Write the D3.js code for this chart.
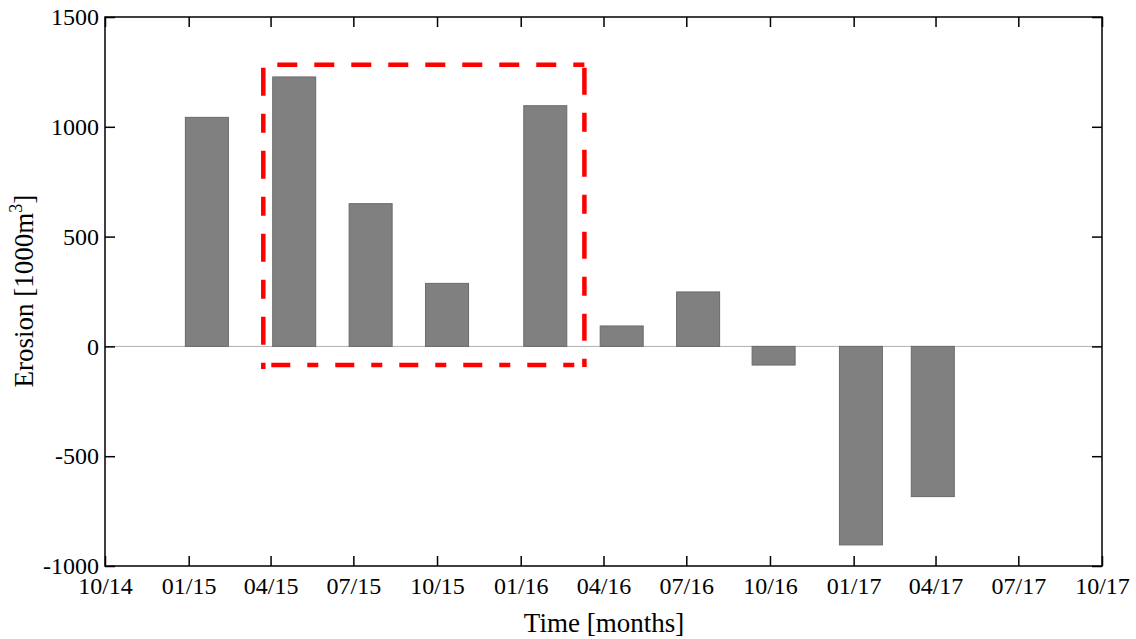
<!DOCTYPE html>
<html>
<head>
	<meta charset="UTF-8">
	<title>Erosion</title>
	<script type="text/javascript" src="https://cdn.jsdelivr.net/npm/d3@7"></script>
	<style>
		body { margin: 0; background: #fff; }
		text { font-family: "Liberation Serif", "Times New Roman", serif; fill: #000; }
	</style>
</head>
<body>

<script type="text/javascript">
	// survey dates and erosion volume (1000 m3)
	var dates = ["2015-01-21", "2015-04-27", "2015-07-20", "2015-10-12", "2016-01-28",
	             "2016-04-21", "2016-07-14", "2016-10-05", "2017-01-09", "2017-03-29"];
	var erosion = [1043, 1227, 650, 287, 1096, 93, 248, -85, -904, -684];

	var timeRange = ["2014-10-01", "2017-10-01"];
	var yTicks = [-1000, -500, 0, 500, 1000, 1500];

	// highlighted period (red dashed box)
	var boxDates = ["2015-03-24", "2016-03-11"];
	var boxValues = [-85, 1283];

	var w = 1136;
	var h = 639;

	var margin = {
		top: 17,
		bottom: 73,
		left: 105,
		right: 34
	};

	var height = h - margin.top - margin.bottom;
	var width = w - margin.left - margin.right;

	var parse = d3.timeParse("%Y-%m-%d");

	var x = d3.scaleTime()
		.domain(timeRange.map(parse))
		.range([0, width]);

	var y = d3.scaleLinear()
		.domain([-1000, 1500])
		.range([height, 0]);

	var svg = d3.select("body")
		.append("svg")
		.attr("width", w)
		.attr("height", h);

	var chart = svg.append("g")
		.attr("transform", "translate(" + margin.left + "," + margin.top + ")");

	var data = dates.map(function(d, i){ return {date: parse(d), value: erosion[i]}; });
	var barW = 43;

	// zero line
	chart.append("line")
		.attr("x1", 0)
		.attr("x2", width)
		.attr("y1", y(0))
		.attr("y2", y(0))
		.attr("stroke", "#b0b0b0")
		.attr("stroke-width", 1);

	chart.selectAll(".bar")
		.data(data)
		.enter()
		.append("rect")
		.classed("bar", true)
		.attr("x", function(d){ return x(d.date) - barW / 2; })
		.attr("y", function(d){ return y(Math.max(0, d.value)); })
		.attr("width", barW)
		.attr("height", function(d){ return Math.abs(y(d.value) - y(0)); })
		.attr("fill", "#808080")
		.attr("stroke", "#6a6a6a")
		.attr("stroke-width", 1);

	// red dashed box
	var bx0 = x(parse(boxDates[0])), bx1 = x(parse(boxDates[1]));
	var by0 = y(boxValues[1]), by1 = y(boxValues[0]);
	var redStyle = function(sel, dash){
		sel.attr("fill", "none")
			.attr("stroke", "#ff0000")
			.attr("stroke-width", 4.5)
			.attr("stroke-dasharray", dash);
	};
	chart.append("path")
		.attr("d", "M" + (bx0 + 14) + "," + by0 + "H" + bx1)
		.call(redStyle, "20,17");
	chart.append("path")
		.attr("d", "M" + (bx0 + 8) + "," + by1 + "H" + bx1)
		.call(redStyle, "19,17,11,17");
	chart.append("path")
		.attr("d", "M" + bx0 + "," + (by0 + 3) + "V" + (by1 + 4))
		.call(redStyle, "28,18,19,18");
	chart.append("path")
		.attr("d", "M" + bx1 + "," + (by0 + 3) + "V" + (by1 + 2))
		.call(redStyle, "27,18,19,18");

	// axes with inward ticks
	var xAxis = d3.axisBottom(x)
		.ticks(d3.timeMonth.every(3))
		.tickFormat(d3.timeFormat("%m/%y"))
		.tickSizeInner(-10)
		.tickSizeOuter(0)
		.tickPadding(11);

	var gx = chart.append("g")
		.attr("transform", "translate(0," + height + ")")
		.call(xAxis);

	var gxt = chart.append("g")
		.call(d3.axisTop(x).ticks(d3.timeMonth.every(3)).tickFormat("").tickSizeInner(-10).tickSizeOuter(0));

	var gy = chart.append("g")
		.call(d3.axisLeft(y).tickValues(yTicks)
			.tickFormat(function(d){ return String(d); })
			.tickSizeInner(-10).tickSizeOuter(0).tickPadding(6));

	var gyr = chart.append("g")
		.attr("transform", "translate(" + width + ",0)")
		.call(d3.axisRight(y).tickValues(yTicks).tickFormat("").tickSizeInner(-10).tickSizeOuter(0));

	[gx, gxt, gy, gyr].forEach(function(g){
		g.select(".domain").remove();
		g.selectAll(".tick line").attr("stroke", "#000").attr("stroke-width", 1.5);
		g.selectAll("text").style("font-size", "24px").attr("fill", "#000");
	});

	// frame
	chart.append("rect")
		.attr("width", width)
		.attr("height", height)
		.attr("fill", "none")
		.attr("stroke", "#000")
		.attr("stroke-width", 1.5);

	// labels
	svg.append("text")
		.attr("x", 604)
		.attr("y", 632)
		.attr("text-anchor", "middle")
		.style("font-size", "27px")
		.text("Time [months]");

	var yl = svg.append("text")
		.attr("transform", "translate(33,291) rotate(-90)")
		.attr("text-anchor", "middle")
		.style("font-size", "27px");
	yl.append("tspan").text("Erosion [1000m");
	yl.append("tspan").attr("dy", -11).style("font-size", "18px").text("3");
	yl.append("tspan").attr("dy", 11).text("]");
</script>

</body>
</html>
